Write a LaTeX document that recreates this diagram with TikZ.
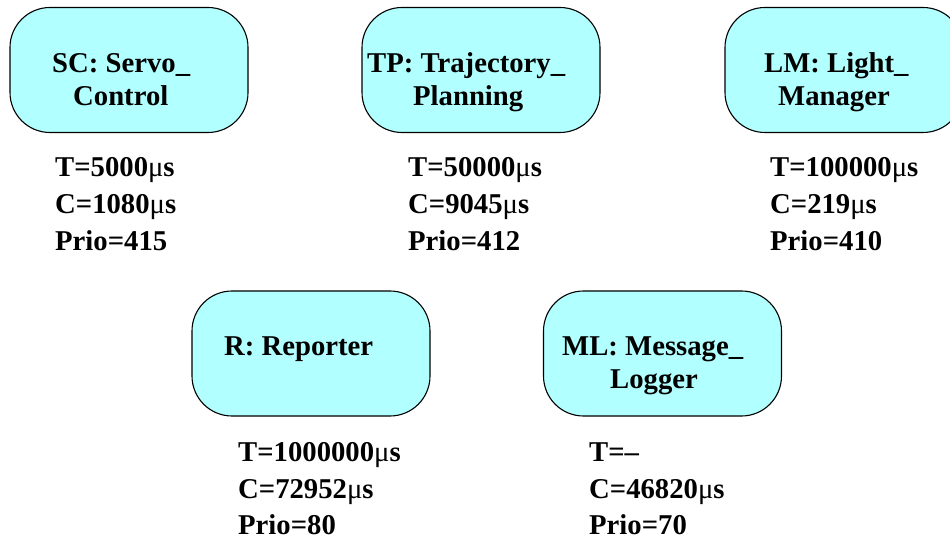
\documentclass[tikz,border=0pt]{standalone}
\usepackage{fontspec}
\setmainfont{Liberation Serif}
\definecolor{taskfill}{RGB}{178,255,255}
\newcommand\micro{{\mdseries μ}}
\tikzset{
  task/.style={draw=black, line width=1.1pt, fill=taskfill, rounded corners=40pt,
    minimum width=238pt, minimum height=125pt, inner sep=0pt},
  label/.style={font=\fontsize{28.7}{34}\selectfont\bfseries, inner sep=0pt, anchor=base west},
}
\begin{document}
\begin{tikzpicture}[x=1pt, y=-1pt]
  \useasboundingbox (0,0) rectangle (950,537);
  \clip (0,0) rectangle (950,537);

  % task boxes
  \node[task] (sc) at (129,70) {};
  \node[task] (tp) at (481,70) {};
  \node[task] (lm) at (844,70) {};
  \node[task] (r)  at (311,353.5) {};
  \node[task] (ml) at (662.5,353.5) {};

  % task names
  \node[label] (sc1) at (52,73)  {SC: Servo\_};
  \node[label] (sc2) at (73,106) {Control};
  \node[label] (tp1) at (367,73)  {TP: Trajectory\_};
  \node[label] (tp2) at (413,106) {Planning};
  \node[label] (lm1) at (764,73)  {LM: Light\_};
  \node[label] (lm2) at (778,106) {Manager};
  \node[label] (r1)  at (224,355) {R: Reporter};
  \node[label] (ml1) at (562,355) {ML: Message\_};
  \node[label] (ml2) at (610,388) {Logger};

  % timing parameters
  \node[label] (scT) at (55,177) {T=5000\micro s};
  \node[label] (scC) at (55,214) {C=1080\micro s};
  \node[label] (scP) at (55,251) {Prio=415};
  \node[label] (tpT) at (408,177) {T=50000\micro s};
  \node[label] (tpC) at (408,214) {C=9045\micro s};
  \node[label] (tpP) at (408,251) {Prio=412};
  \node[label] (lmT) at (770,177) {T=100000\micro s};
  \node[label] (lmC) at (770,214) {C=219\micro s};
  \node[label] (lmP) at (770,251) {Prio=410};
  \node[label] (rT)  at (238,461) {T=1000000\micro s};
  \node[label] (rC)  at (238,498) {C=72952\micro s};
  \node[label] (rP)  at (238,534) {Prio=80};
  \node[label] (mlT) at (589,461) {T=–};
  \node[label] (mlC) at (589,498) {C=46820\micro s};
  \node[label] (mlP) at (589,534) {Prio=70};
\end{tikzpicture}
\end{document}
